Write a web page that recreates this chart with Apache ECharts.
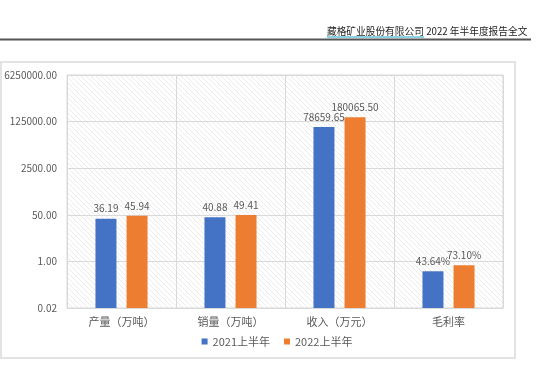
<!DOCTYPE html>
<html><head><meta charset="utf-8">
<script src="https://cdn.jsdelivr.net/npm/echarts@6/dist/echarts.min.js"></script>
<style>html,body{margin:0;padding:0;background:#fff}#c{width:554px;height:366px}</style>
</head><body><div id="c"></div>
<script>
const categories = ['产量（万吨）', '销量（万吨）', '收入（万元）', '毛利率'];
const series2021 = [36.19, 40.88, 78659.65, 0.4364];
const series2022 = [45.94, 49.41, 180065.50, 0.7310];
const labels2021 = ['36.19', '40.88', '78659.65', '43.64%'];
const labels2022 = ['45.94', '49.41', '180065.50', '73.10%'];
const seriesNames = ['2021上半年', '2022上半年'];
const headerCompany = '藏格矿业股份有限公司';
const headerRest = ' 2022 年半年度报告全文';

const pc = document.createElement('canvas');
pc.width = 5; pc.height = 5;
const px = pc.getContext('2d');
px.fillStyle = '#ffffff'; px.fillRect(0, 0, 5, 5);
px.strokeStyle = '#ebebeb'; px.lineWidth = 1;
px.beginPath(); px.moveTo(-1, -1); px.lineTo(6, 6); px.stroke();
px.beginPath(); px.moveTo(-1, 4); px.lineTo(1, 6); px.stroke();
px.beginPath(); px.moveTo(4, -1); px.lineTo(6, 1); px.stroke();

const chart = echarts.init(document.getElementById('c'));
const font = '"Noto Sans CJK SC", "Liberation Sans", sans-serif';
const txtColor = '#595959';
chart.setOption({
  animation: false,
  textStyle: { fontFamily: font },
  grid: { left: 67, right: 51, top: 75, bottom: 58, show: true,
    backgroundColor: { image: pc, repeat: 'repeat' }, borderColor: '#d9d9d9', borderWidth: 1 },
  legend: { bottom: 14, left: 'center', icon: 'rect', itemWidth: 6, itemHeight: 6, itemGap: 14,
    textStyle: { color: txtColor, fontSize: 11, fontFamily: font }, data: seriesNames },
  xAxis: { type: 'category', data: categories,
    axisLine: { lineStyle: { color: '#d9d9d9' } }, axisTick: { show: false },
    splitLine: { show: true, lineStyle: { color: '#d9d9d9' } },
    axisLabel: { color: txtColor, fontSize: 11, margin: 8 } },
  yAxis: { type: 'log', logBase: 50, min: 0.02, max: 6250000, startValue: 0.02,
    axisLine: { show: false }, axisTick: { show: false },
    splitLine: { lineStyle: { color: '#d9d9d9' } },
    axisLabel: { color: txtColor, fontSize: 10, margin: 10, formatter: v => Number(v).toFixed(2) } },
  series: [
    { name: seriesNames[0], type: 'bar', data: series2021, barWidth: 21, barGap: '48%',
      itemStyle: { color: '#4472c4' },
      label: { show: true, position: 'top', color: txtColor, fontSize: 10, formatter: p => labels2021[p.dataIndex] } },
    { name: seriesNames[1], type: 'bar', data: series2022, barWidth: 21,
      itemStyle: { color: '#ed7d31' },
      label: { show: true, position: 'top', color: txtColor, fontSize: 10, formatter: p => labels2022[p.dataIndex] } }
  ],
  graphic: [
    { type: 'rect', shape: { x: 1, y: 62, width: 514, height: 296 }, style: { fill: 'none', stroke: '#e3e3e3', lineWidth: 2 }, z: -1 },
    { type: 'line', shape: { x1: 0, y1: 39.5, x2: 531, y2: 39.5 }, style: { stroke: '#555555', lineWidth: 2 } },
    { type: 'text', left: 327, top: 26, style: { text: headerCompany, fill: '#222', font: '9.7px ' + font } },
    { type: 'text', left: 424, top: 26, style: { text: headerRest, fill: '#222', font: '9.7px ' + font } },
    { type: 'line', shape: { x1: 327, y1: 37, x2: 424, y2: 37 }, style: { stroke: '#1ba1c6', lineWidth: 1 } }
  ]
});
</script></body></html>
